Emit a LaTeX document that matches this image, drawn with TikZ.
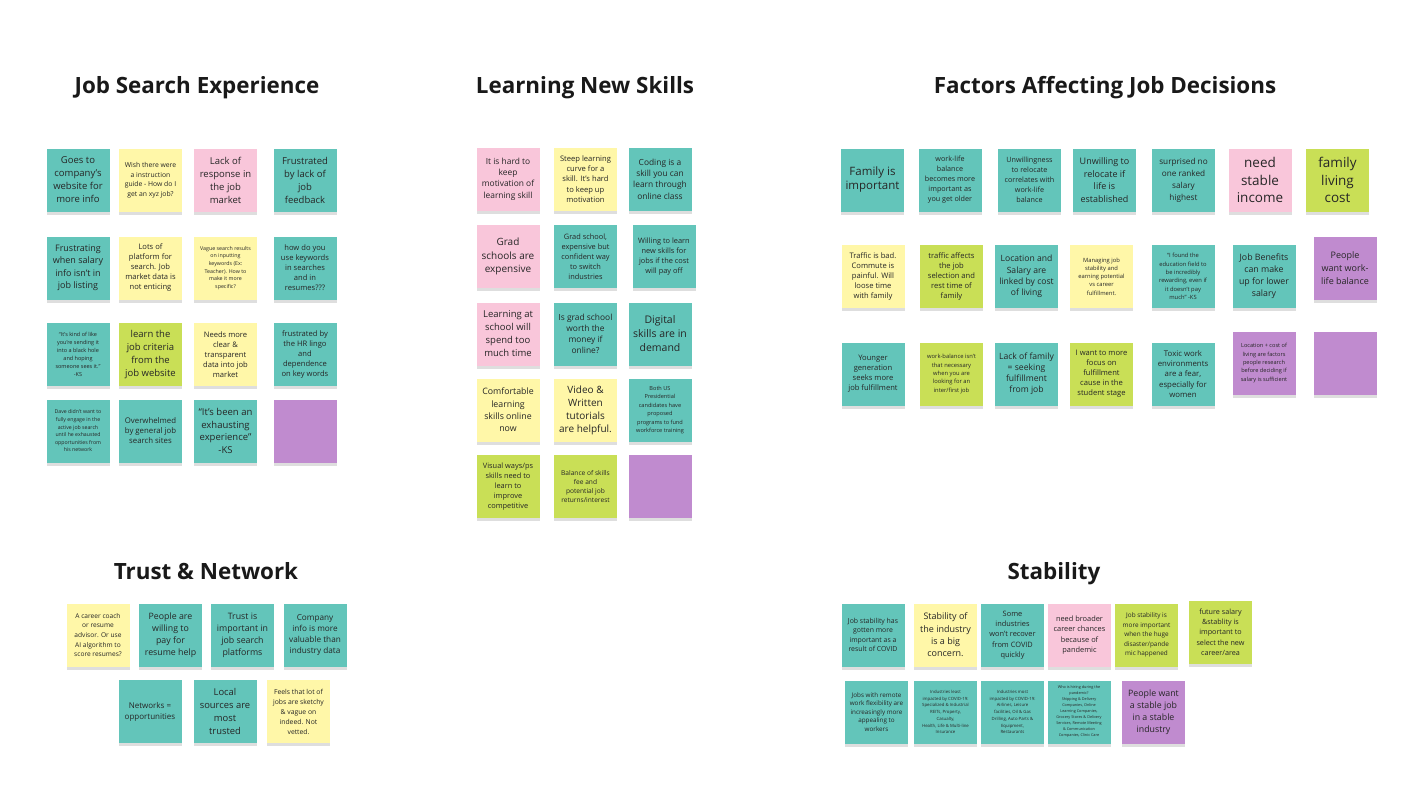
\documentclass[tikz,border=0pt]{standalone}
\usepackage{fontspec}
\setmainfont{Open Sans}
\usepackage{tikz}
\usetikzlibrary{shadows}
\definecolor{noteteal}{HTML}{63C5BA}
\definecolor{noteyellow}{HTML}{FFF7A8}
\definecolor{notepink}{HTML}{F9C6DA}
\definecolor{notelime}{HTML}{C9DF56}
\definecolor{noteviolet}{HTML}{C08BCF}
\definecolor{notetext}{HTML}{262626}

\begin{document}
\begin{tikzpicture}[
  x=1pt, y=-1pt,
  note/.style={rectangle, minimum width=63pt, minimum height=63pt, inner sep=1pt, align=center, text=notetext,
    drop shadow={shadow xshift=0pt, shadow yshift=-3pt, opacity=0.13, fill=black}},
  tnote/.style={note, fill=noteteal},
  ynote/.style={note, fill=noteyellow},
  pnote/.style={note, fill=notepink},
  gnote/.style={note, fill=notelime},
  vnote/.style={note, fill=noteviolet},
  sz/.style 2 args={font=\fontsize{#1}{#2}\selectfont},
  heading/.style={anchor=base, font=\fontsize{22.4}{26}\selectfont\bfseries, text=black!90},
]
\useasboundingbox (0,0) rectangle (1417,800);

\node[heading] (jsetitle) at (197,93) {Job Search Experience};
\node[heading] (lnstitle) at (585,93) {Learning New Skills};
\node[heading] (fajtitle) at (1105,93) {Factors Affecting Job Decisions};
\node[heading] (trusttitle) at (206,579) {Trust \& Network};
\node[heading] (stabtitle) at (1054,579) {Stability};

\node[tnote, sz={9.5}{13}] (website) at (78,180) {Goes to\\company's\\website for\\more info};
\node[ynote, sz={6.8}{9.5}] (guide) at (150.5,180) {Wish there were\\a instruction\\guide - How do I\\get an xyz job?};
\node[pnote, sz={9.5}{13}] (response) at (225.5,180) {Lack of\\response in\\the job\\market};
\node[tnote, sz={9.5}{13}] (feedback) at (305,180) {Frustrated\\by lack of\\job\\feedback};
\node[tnote, sz={9}{12.5}] (salary) at (78,268) {Frustrating\\when salary\\info isn't in\\job listing};
\node[ynote, sz={7.6}{10}] (platforms) at (150.5,268) {Lots of\\platform for\\search. Job\\market data is\\not enticing};
\node[ynote, sz={5.3}{7.6}] (vague) at (225.5,268) {Vague search results\\on inputting\\keywords (Ex:\\Teacher). How to\\make it more\\specific?};
\node[tnote, sz={7.6}{10}] (keywords) at (305,268) {how do you\\use keywords\\in searches\\and in\\resumes???};
\node[tnote, sz={5.5}{8}] (blackhole) at (78,354.5) {“It's kind of like\\you're sending it\\into a black hole\\and hoping\\someone sees it.”\\-KS};
\node[gnote, sz={9.5}{13}] (criteria) at (150.5,354.5) {learn the\\job criteria\\from the\\job website};
\node[ynote, sz={7.6}{10}] (transparent) at (225.5,354.5) {Needs more\\clear \&\\transparent\\data into job\\market};
\node[tnote, sz={7.6}{10}] (lingo) at (305,354.5) {frustrated by\\the HR lingo\\and\\dependence\\on key words};
\node[tnote, sz={5.2}{7.6}] (network) at (78,431) {Dave didn't want to\\fully engage in the\\active job search\\until he exhausted\\opportunities from\\his network};
\node[tnote, sz={7.8}{10}] (overwhelmed) at (150.5,431) {Overwhelmed\\by general job\\search sites};
\node[tnote, sz={9.5}{12.5}] (exhausting) at (225.5,431) {“It's been an\\exhausting\\experience”\\-KS};
\node[vnote] (jseblank) at (305,431) {};

\node[pnote, sz={8.4}{11.3}] (motivation) at (508,179) {It is hard to\\keep\\motivation of\\learning skill};
\node[ynote, sz={7.6}{10.3}] (steep) at (585.5,179) {Steep learning\\curve for a\\skill. It's hard\\to keep up\\motivation};
\node[tnote, sz={8.4}{11.3}] (coding) at (660,179) {Coding is a\\skill you can\\learn through\\online class};
\node[pnote, sz={10}{13.3}] (gradcost) at (508,256.5) {Grad\\schools are\\expensive};
\node[tnote, sz={7.4}{10}] (switch) at (585.5,256.5) {Grad school,\\expensive but\\confident way\\to switch\\industries};
\node[tnote, sz={7.4}{10}] (payoff) at (664,256.5) {Willing to learn\\new skills for\\jobs if the cost\\will pay off};
\node[pnote, sz={9.5}{13}] (schooltime) at (508,334) {Learning at\\school will\\spend too\\much time};
\node[tnote, sz={8.4}{11}] (online) at (585.5,334) {Is grad school\\worth the\\money if\\online?};
\node[tnote, sz={10.5}{14}] (digital) at (660,334) {Digital\\skills are in\\demand};
\node[ynote, sz={8.8}{12.3}] (comfortable) at (508,410) {Comfortable\\learning\\skills online\\now};
\node[ynote, sz={10}{13}] (tutorials) at (585.5,410) {Video \&\\Written\\tutorials\\are helpful.};
\node[tnote, sz={5.6}{8.4}] (presidential) at (660,410) {Both US\\Presidential\\candidates have\\proposed\\programs to fund\\workforce training};
\node[gnote, sz={7.4}{10}] (visual) at (508,486.5) {Visual ways/ps\\skills need to\\learn to\\improve\\competitive};
\node[gnote, sz={6.6}{9.3}] (balance) at (585.5,486.5) {Balance of skills\\fee and\\potential job\\returns/interest};
\node[vnote] (lnsblank) at (660,486.5) {};

\node[tnote, sz={11.5}{14}] (family) at (872.5,180) {Family is\\important};
\node[tnote, sz={7.2}{10}] (older) at (950,180) {work-life\\balance\\becomes more\\important as\\you get older};
\node[tnote, sz={7.2}{10}] (unwillingness) at (1029.5,180) {Unwillingness\\to relocate\\correlates with\\work-life\\balance};
\node[tnote, sz={9}{12.5}] (relocate) at (1104.5,180) {Unwilling to\\relocate if\\life is\\established};
\node[tnote, sz={8.2}{12}] (ranked) at (1183.5,180) {surprised no\\one ranked\\salary\\highest};
\node[pnote, sz={13.5}{17.7}] (income) at (1260,180) {need\\stable\\income};
\node[gnote, sz={13.5}{17.7}] (livingcost) at (1337.5,180) {family\\living\\cost};
\node[ynote, sz={7.6}{10}] (traffic) at (873,276.5) {Traffic is bad.\\Commute is\\painful. Will\\loose time\\with family};
\node[gnote, sz={7.6}{10}] (resttime) at (951.5,276.5) {traffic affects\\the job\\selection and\\rest time of\\family};
\node[tnote, sz={8.6}{11.3}] (costliving) at (1026.5,276.5) {Location and\\Salary are\\linked by cost\\of living};
\node[ynote, sz={5.8}{8.3}] (managing) at (1101.5,276.5) {Managing job\\stability and\\earning potential\\vs career\\fulfillment.};
\node[tnote, sz={5.8}{8.3}] (rewarding) at (1183,276.5) {“I found the\\education field to\\be incredibly\\rewarding, even if\\it doesn't pay\\much” -KS};
\node[tnote, sz={8.8}{12}] (benefits) at (1264,276.5) {Job Benefits\\can make\\up for lower\\salary};
\node[vnote, sz={9}{13}] (worklife) at (1345,268) {People\\want work-\\life balance};
\node[tnote, sz={7.6}{10}] (younger) at (873,374) {Younger\\generation\\seeks more\\job fulfillment};
\node[gnote, sz={5.8}{8.3}] (intern) at (951.5,374) {work-balance isn't\\that necessary\\when you are\\looking for an\\inter/first job};
\node[tnote, sz={8.6}{11}] (lackfamily) at (1026.5,374) {Lack of family\\= seeking\\fulfillment\\from job};
\node[gnote, sz={7.6}{10}] (student) at (1101.5,374) {I want to more\\focus on\\fulfillment\\cause in the\\student stage};
\node[tnote, sz={7.8}{10.3}] (toxic) at (1183,374) {Toxic work\\environments\\are a fear,\\especially for\\women};
\node[vnote, sz={5.6}{8.3}] (research) at (1264,363) {Location + cost of\\living are factors\\people research\\before deciding if\\salary is sufficient};
\node[vnote] (fajblank) at (1345,363) {};

\node[ynote, sz={6.6}{9.7}] (coach) at (98,635) {A career coach\\or resume\\advisor. Or use\\AI algorithm to\\score resumes?};
\node[tnote, sz={8.8}{12}] (resumehelp) at (170.5,635) {People are\\willing to\\pay for\\resume help};
\node[tnote, sz={8.8}{12}] (platformtrust) at (242.5,635) {Trust is\\important in\\job search\\platforms};
\node[tnote, sz={8.2}{11}] (companyinfo) at (315,635) {Company\\info is more\\valuable than\\industry data};
\node[tnote, sz={8}{11}] (networks) at (150,711.5) {Networks =\\opportunities};
\node[tnote, sz={9.4}{13}] (localsources) at (225,711.5) {Local\\sources are\\most\\trusted};
\node[ynote, sz={6.8}{10}] (sketchy) at (298.5,711.5) {Feels that lot of\\jobs are sketchy\\\& vague on\\indeed. Not\\vetted.};

\node[tnote, sz={6.9}{9.5}] (covid) at (873,635) {Job stability has\\gotten more\\important as a\\result of COVID};
\node[ynote, sz={9}{12.3}] (industry) at (945.5,635) {Stability of\\the industry\\is a big\\concern.};
\node[tnote, sz={7.4}{10.3}] (recover) at (1012.5,635) {Some\\industries\\won't recover\\from COVID\\quickly};
\node[pnote, sz={7.4}{10.3}] (broader) at (1079.5,635) {need broader\\career chances\\because of\\pandemic};
\node[gnote, sz={6.4}{9.5}] (disaster) at (1146.5,635) {Job stability is\\more important\\when the huge\\disaster/pande\\mic happened};
\node[gnote, sz={7.2}{10.3}] (future) at (1220.5,632) {future salary\\\&stablity is\\important to\\select the new\\career/area};
\node[tnote, sz={6.3}{8.5}] (remote) at (876.5,712) {Jobs with remote\\work flexibility are\\increasingly more\\appealing to\\workers};
\node[tnote, sz={4.3}{6.7}] (leastimpact) at (945.5,712) {Industries least\\impacted by COVID-19:\\Specialized \& Industrial\\REITs, Property,\\Casualty,\\Health, Life \& Multi-line\\Insurance};
\node[tnote, sz={4.3}{6.7}] (mostimpact) at (1012.5,712) {Industries most\\impacted by COVID-19:\\Airlines, Leisure\\facilities, Oil \& Gas\\Drilling, Auto Parts \&\\Equipment,\\Restaurants};
\node[tnote, sz={3.8}{6}] (hiring) at (1079,712) {Who is hiring during the\\pandemic?\\Shipping \& Delivery\\Companies, Online\\Learning Companies,\\Grocery Stores \& Delivery\\Services, Remote Meeting\\\& Communication\\Companies, Clinic Care};
\node[vnote, sz={8.8}{12}] (stablejob) at (1153.5,712) {People want\\a stable job\\in a stable\\industry};

\end{tikzpicture}
\end{document}
